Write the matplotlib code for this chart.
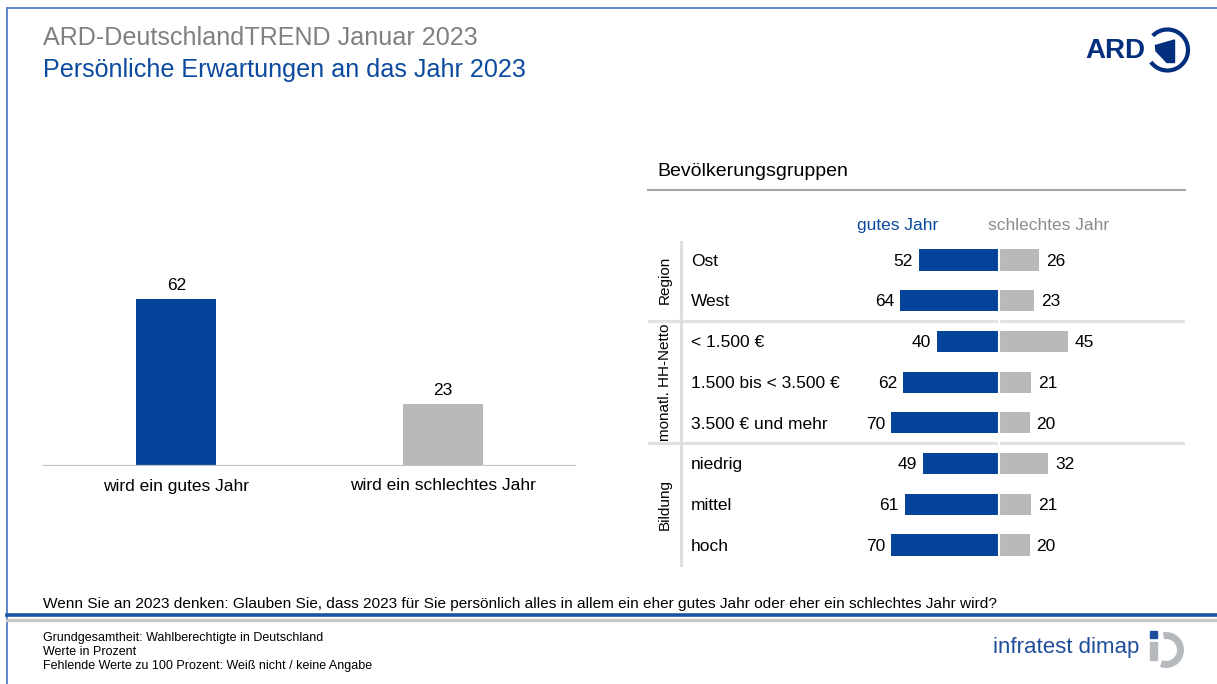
import matplotlib
matplotlib.use('Agg')
import matplotlib.pyplot as plt
from matplotlib.patches import Arc, Polygon, Rectangle

plt.rcParams['font.family'] = ['Liberation Sans', 'DejaVu Sans']

BLUE = '#03449a'
GREY = '#b9b9b9'
NAVY = '#012f7d'
TXT_BLUE = '#0b4a9f'

# Gesamtergebnis
gesamt_labels = ['wird ein gutes Jahr', 'wird ein schlechtes Jahr']
gesamt_werte = [62, 23]

# Bevölkerungsgruppen
gruppen = ['Region', 'monatl. HH-Netto', 'Bildung']
gruppen_zeilen = [2, 3, 3]
zeilen = ['Ost', 'West', '< 1.500 €', '1.500 bis < 3.500 €', '3.500 € und mehr',
          'niedrig', 'mittel', 'hoch']
gutes_jahr = [52, 64, 40, 62, 70, 49, 61, 70]
schlechtes_jahr = [26, 23, 45, 21, 20, 32, 21, 20]

W, H = 1217, 684
fig = plt.figure(figsize=(W / 100, H / 100), dpi=100)

# Hintergrund-Achse in Pixelkoordinaten fuer Rahmen, Titel und Logos
deco = fig.add_axes([0, 0, 1, 1])
deco.set_xlim(0, W)
deco.set_ylim(H, 0)
deco.axis('off')

deco.plot([7, 7], [8, H], color='#5b89c7', lw=1.4)
deco.plot([7, W], [8, 8], color='#5b89c7', lw=1.4)
deco.plot([7, W], [615, 615], color='#1b54a3', lw=2.6)
deco.plot([7, W], [619.5, 619.5], color='#c6c6c6', lw=2.4)

deco.text(43, 45, 'ARD-DeutschlandTREND Januar 2023', fontsize=18.1, color='#808080', va='baseline')
deco.text(43, 77, 'Persönliche Erwartungen an das Jahr 2023', fontsize=18.1, color=TXT_BLUE, va='baseline')

deco.text(43, 604, 'Wenn Sie an 2023 denken: Glauben Sie, dass 2023 für Sie persönlich alles in allem '
          'ein eher gutes Jahr oder eher ein schlechtes Jahr wird?', fontsize=11.05, va='center')
for i, line in enumerate(['Grundgesamtheit: Wahlberechtigte in Deutschland',
                          'Werte in Prozent',
                          'Fehlende Werte zu 100 Prozent: Weiß nicht / keine Angabe']):
    deco.text(43, 638 + i * 14, line, fontsize=9, va='center')

# ARD-Logo
deco.text(1085, 51, 'ARD', fontsize=20, fontweight='bold', color=NAVY, va='center')
deco.add_patch(Arc((1167.5, 50), 41, 41, theta1=-136, theta2=144, color=NAVY, lw=3))
deco.add_patch(Polygon([(1155.5, 45.5), (1174.5, 40), (1174.5, 62.5), (1167, 62.5),
                        (1156, 51)], closed=True, color=NAVY))

# infratest dimap Logo
deco.text(993, 648, 'infratest dimap', fontsize=16, color='#1f4f9c', va='center')
deco.add_patch(Rectangle((1150, 631), 7, 7, color='#1f4f9c'))
deco.add_patch(Rectangle((1150, 642), 7, 18, color='#b5b9bd'))
deco.add_patch(Arc((1166, 650), 29, 29, theta1=-100, theta2=110, color='#b5b9bd', lw=5))

# linkes Diagramm: Gesamt
ax1 = fig.add_axes([43 / W, (H - 466) / H, 533 / W, 269.5 / H])
bars = ax1.bar(range(len(gesamt_werte)), gesamt_werte, width=0.3, color=[BLUE, GREY])
ax1.bar_label(bars, padding=4, fontsize=12.5)
ax1.set_xlim(-0.5, 1.5)
ax1.set_ylim(0, 100)
ax1.axhline(0, color='#c3c3c3', lw=1.6)
for s in ax1.spines.values():
    s.set_visible(False)
ax1.set_yticks([])
ax1.set_xticks(range(len(gesamt_labels)))
ax1.set_xticklabels(gesamt_labels)
ax1.tick_params(axis='x', length=0, pad=9, labelsize=12.5)
ax1.patch.set_visible(False)

# rechtes Diagramm: Bevoelkerungsgruppen
deco.text(657, 171, 'Bevölkerungsgruppen', fontsize=14, va='center')
deco.plot([648, 1185], [190, 190], color='#a6a6a6', lw=1.5)

ax2 = fig.add_axes([648 / W, (H - 565.3) / H, 537 / W, 325.7 / H])
ax2.set_xlim(-228, 121)
ax2.set_ylim(7.5, -0.5)
ax2.axis('off')
y = list(range(len(zeilen)))
ax2.barh(y, [-v for v in gutes_jahr], height=0.52, color=BLUE)
ax2.barh(y, schlechtes_jahr, height=0.52, color=GREY)

start = 0
for name, n in zip(gruppen, gruppen_zeilen):
    if start > 0:
        ax2.axhline(start - 0.5, color='#e1e1e1', lw=2.2)
    ax2.text(-217, start + (n - 1) / 2, name, rotation=90, ha='center', va='center', fontsize=11)
    start += n
ax2.axvline(0, color='white', lw=1.5)
ax2.plot([-206.5, -206.5], [-0.45, 7.5], color='#dddddd', lw=2.2, clip_on=False)

for i, (name, g, s) in enumerate(zip(zeilen, gutes_jahr, schlechtes_jahr)):
    ax2.text(-200, i + 0.03, name, ha='left', va='center', fontsize=12.5)
    ax2.text(-g - 4, i + 0.03, str(g), ha='right', va='center', fontsize=12.5)
    ax2.text(s + 4.5, i + 0.03, str(s), ha='left', va='center', fontsize=12.5)

ax2.text(-66, -0.835, 'gutes Jahr', ha='center', va='center', fontsize=12.5, color=TXT_BLUE)
ax2.text(32.5, -0.835, 'schlechtes Jahr', ha='center', va='center', fontsize=12.5, color='#8c8c8c')

fig.savefig('out.png', dpi=100)
